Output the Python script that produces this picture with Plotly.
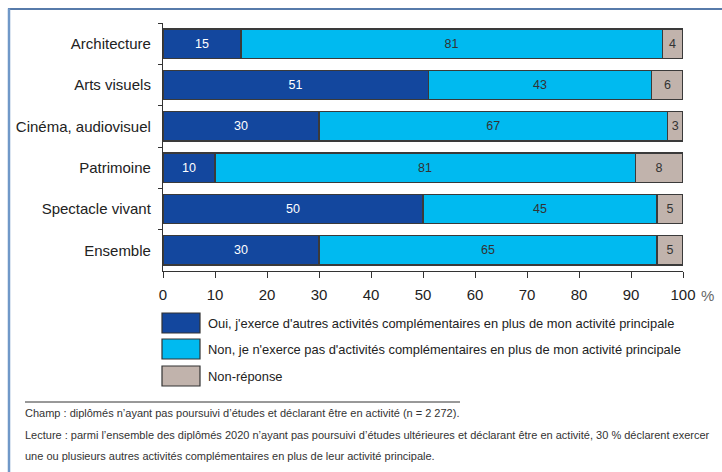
import plotly.graph_objects as go

categories = ["Architecture", "Arts visuels", "Cinéma, audiovisuel", "Patrimoine", "Spectacle vivant", "Ensemble"]
# bar lengths
oui = [15, 51, 30, 10, 50, 30]
non = [81, 43, 67, 80.8, 45, 65]
nr = [4, 6, 3, 9.2, 5, 5]
# printed labels
oui_labels = [15, 51, 30, 10, 50, 30]
non_labels = [81, 43, 67, 81, 45, 65]
nr_labels = [4, 6, 3, 8, 5, 5]
series_names = [
    "Oui, j'exerce d'autres activités complémentaires en plus de mon activité principale",
    "Non, je n'exerce pas d'activités complémentaires en plus de mon activité principale",
    "Non-réponse",
]
x_ticks = [0, 10, 20, 30, 40, 50, 60, 70, 80, 90, 100]
footer = [
    "Champ : diplômés n’ayant pas poursuivi d’études et déclarant être en activité (n = 2 272).",
    "Lecture : parmi l’ensemble des diplômés 2020 n’ayant pas poursuivi d’études ultérieures et déclarant être en activité, 30 % déclarent exercer",
    "une ou plusieurs autres activités complémentaires en plus de leur activité principale.",
]

colors = ["#13479E", "#00BAF0", "#C1B3AC"]
text_colors = ["white", "#333333", "#333333"]
FONT = "Liberation Sans, Arial, sans-serif"

W, H = 722, 472
L, R, T, B = 163, 683, 23, 271

fig = go.Figure()
for vals, labels, name, col, tcol in zip([oui, non, nr], [oui_labels, non_labels, nr_labels],
                                         series_names, colors, text_colors):
    fig.add_trace(go.Bar(
        y=categories, x=vals, orientation="h", name=name,
        marker=dict(color=col, line=dict(color="#3a3a3a", width=1.2)),
        text=[str(v) for v in labels], textposition="inside",
        insidetextanchor="middle", constraintext="none",
        textfont=dict(color=tcol, size=12.5, family=FONT),
        showlegend=False, hoverinfo="skip",
    ))


def px_x(x):
    return (x - L) / (R - L)


def px_y(y):
    return (B - y) / (B - T)


shapes = []
annotations = []
# frame
shapes.append(dict(type="line", xref="paper", yref="paper",
                   x0=px_x(8), x1=px_x(W), y0=px_y(9), y1=px_y(9),
                   line=dict(color="#1F4F8E", width=1.5)))
shapes.append(dict(type="line", xref="paper", yref="paper",
                   x0=px_x(9), x1=px_x(9), y0=px_y(8.5), y1=px_y(H),
                   line=dict(color="#7098C8", width=2.5)))

# legend
box_tops = [313, 339, 366]
for top, name, col in zip(box_tops, series_names, colors):
    shapes.append(dict(type="rect", xref="paper", yref="paper",
                       x0=px_x(162), x1=px_x(200), y0=px_y(top), y1=px_y(top + 20),
                       fillcolor=col, line=dict(color="#333333", width=1.2)))
    annotations.append(dict(xref="paper", yref="paper", x=px_x(206), y=px_y(top + 10),
                            text=name, showarrow=False, xanchor="left", yanchor="middle",
                            font=dict(family=FONT, size=12.9, color="#222222")))

# percent sign
annotations.append(dict(xref="paper", yref="paper", x=px_x(699), y=px_y(295),
                        text="%", showarrow=False, xanchor="left", yanchor="middle",
                        font=dict(family=FONT, size=15, color="#666666")))

# footer
shapes.append(dict(type="line", xref="paper", yref="paper",
                   x0=px_x(25), x1=px_x(460), y0=px_y(402), y1=px_y(402),
                   line=dict(color="#333333", width=1)))
for yy, line in zip([413, 435, 456], footer):
    annotations.append(dict(xref="paper", yref="paper", x=px_x(23), y=px_y(yy),
                            text=line, showarrow=False, xanchor="left", yanchor="middle",
                            font=dict(family=FONT, size=11, color="#333333")))

fig.update_layout(
    width=W, height=H, autosize=False,
    margin=dict(l=L, r=W - R, t=T, b=H - B, pad=0),
    barmode="stack", bargap=0.286,
    plot_bgcolor="white", paper_bgcolor="white",
    font=dict(family=FONT, color="#222222"),
    shapes=shapes, annotations=annotations,
    xaxis=dict(range=[0, 100], tickvals=x_ticks, ticktext=[str(t) for t in x_ticks],
               showgrid=False, zeroline=False, showline=True, linecolor="#333333", linewidth=1.2,
               ticks="outside", ticklen=6, tickcolor="#333333", tickwidth=1.2,
               ticklabelstandoff=4,
               tickfont=dict(size=15, color="#222222", family=FONT), fixedrange=True),
    yaxis=dict(range=[5.5, -0.5], showgrid=False, zeroline=False, showline=True,
               linecolor="#333333", linewidth=1.2, ticks="outside", ticklen=4,
               tickson="boundaries", tickcolor="#333333", tickwidth=1.2,
               ticklabelstandoff=8,
               tickfont=dict(size=15, color="#222222", family=FONT), fixedrange=True),
)

fig.write_html("out.html", config={"displayModeBar": False},
               post_script="document.body.style.margin='0';document.body.style.overflow='hidden';")
